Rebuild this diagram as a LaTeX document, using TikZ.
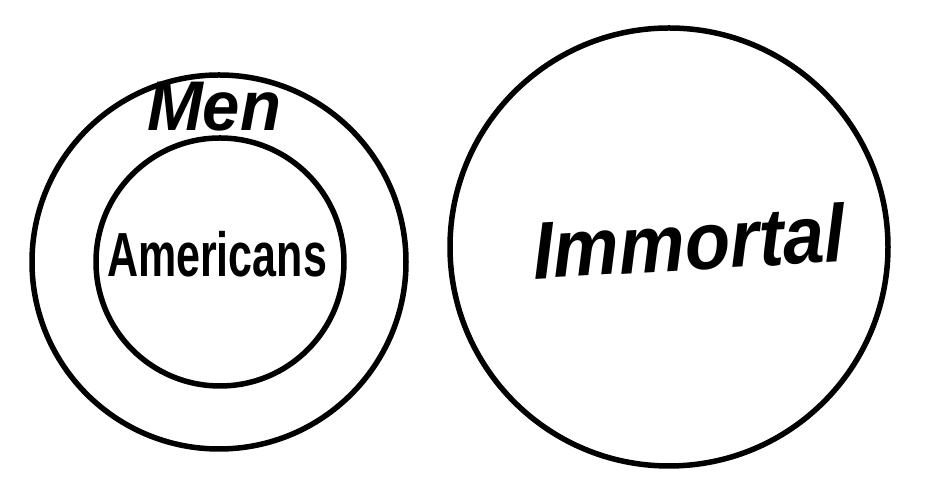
\documentclass[tikz,border=0pt]{standalone}
\usepackage{fontspec}
\setmainfont{Liberation Sans}
\usepackage{tikz}
\usetikzlibrary{positioning}

\begin{document}
\begin{tikzpicture}[
  x=1pt, y=1pt,
  setcircle/.style={
    circle, draw=black, line width=5.5pt, inner sep=0pt
  },
  setlabel/.style={
    inner sep=0pt, font=\bfseries, transform shape
  }
]
\useasboundingbox (0,0) rectangle (930,494);
% the three classes
\node[setcircle, minimum size=374pt] (men) at (219,232) {};
\node[setcircle, minimum size=248pt] (americans) at (220,232) {};
\node[setcircle, minimum size=438pt] (immortal) at (669,247) {};
% their names
\node[setlabel, yscale=1.45] (americansname) at (217,240)
  {\fontsize{43}{46}\selectfont Americans};
\node[setlabel, yscale=1.05] (menname) at (214,387)
  {\fontsize{67}{70}\selectfont\itshape Men};
\node[setlabel, yscale=1.1, rotate=3] (immortalname) at (689,253)
  {\fontsize{74}{78}\selectfont\itshape Immortal};
\end{tikzpicture}
\end{document}
